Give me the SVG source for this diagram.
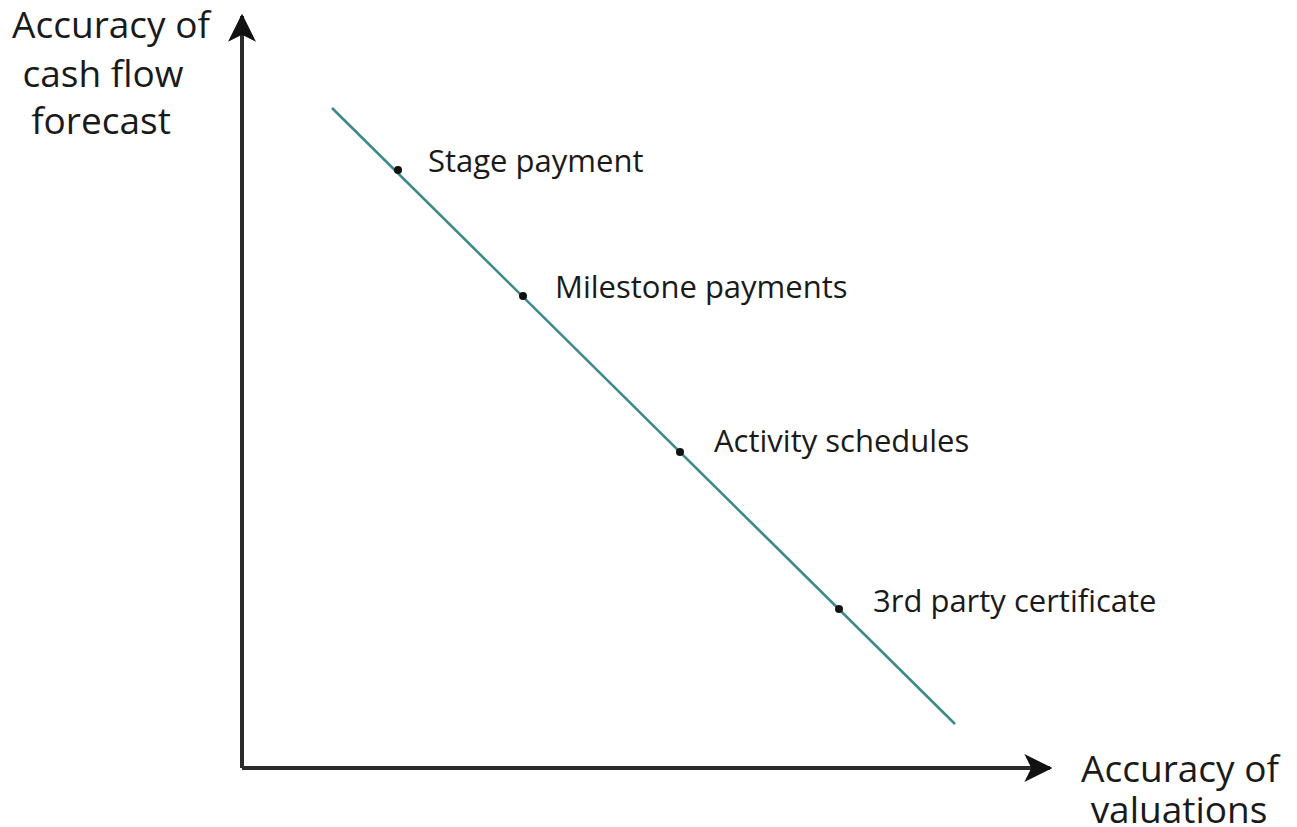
<svg xmlns="http://www.w3.org/2000/svg" width="1297" height="827" viewBox="0 0 1297 827">
<style>
.ax{stroke:#2b2b2b;stroke-width:4;fill:none}
.tr{stroke:#3e8a88;stroke-width:2.6;fill:none}
.dot{fill:#111}
.al{font-family:"Open Sans","Liberation Sans",sans-serif;font-size:37px;fill:#1a1a1a;text-anchor:middle}
.pl{font-family:"Open Sans","Liberation Sans",sans-serif;font-size:31px;fill:#1a1a1a}
</style>
<defs>
<marker id="ah" viewBox="0 0 12 12" refX="11" refY="6" markerWidth="7" markerHeight="7" markerUnits="strokeWidth" orient="auto">
<path d="M0,0 L12,6 L0,12 L3,6 Z" fill="#111"/>
</marker>
</defs>
<g id="connectors">
<path class="ax" d="M242,768 L242,16" marker-end="url(#ah)"/>
<path class="ax" d="M242,768 L1050,768" marker-end="url(#ah)"/>
<path class="tr" d="M332,108 L955,724"/>
</g>
<g id="y-axis-label">
<text class="al" x="111" y="38">Accuracy of</text>
<text class="al" x="103" y="87">cash flow</text>
<text class="al" x="101" y="134">forecast</text>
</g>
<g id="x-axis-label">
<text class="al" x="1180" y="782">Accuracy of</text>
<text class="al" x="1179" y="823">valuations</text>
</g>
<g id="stage-payment">
<circle class="dot" cx="398" cy="170" r="4"/>
<text class="pl" x="428" y="172">Stage payment</text>
</g>
<g id="milestone-payments">
<circle class="dot" cx="523" cy="296" r="4"/>
<text class="pl" x="555" y="298">Milestone payments</text>
</g>
<g id="activity-schedules">
<circle class="dot" cx="680" cy="452" r="4"/>
<text class="pl" x="714" y="452">Activity schedules</text>
</g>
<g id="third-party-certificate">
<circle class="dot" cx="839" cy="609" r="4"/>
<text class="pl" x="873" y="612">3rd party certificate</text>
</g>
</svg>
